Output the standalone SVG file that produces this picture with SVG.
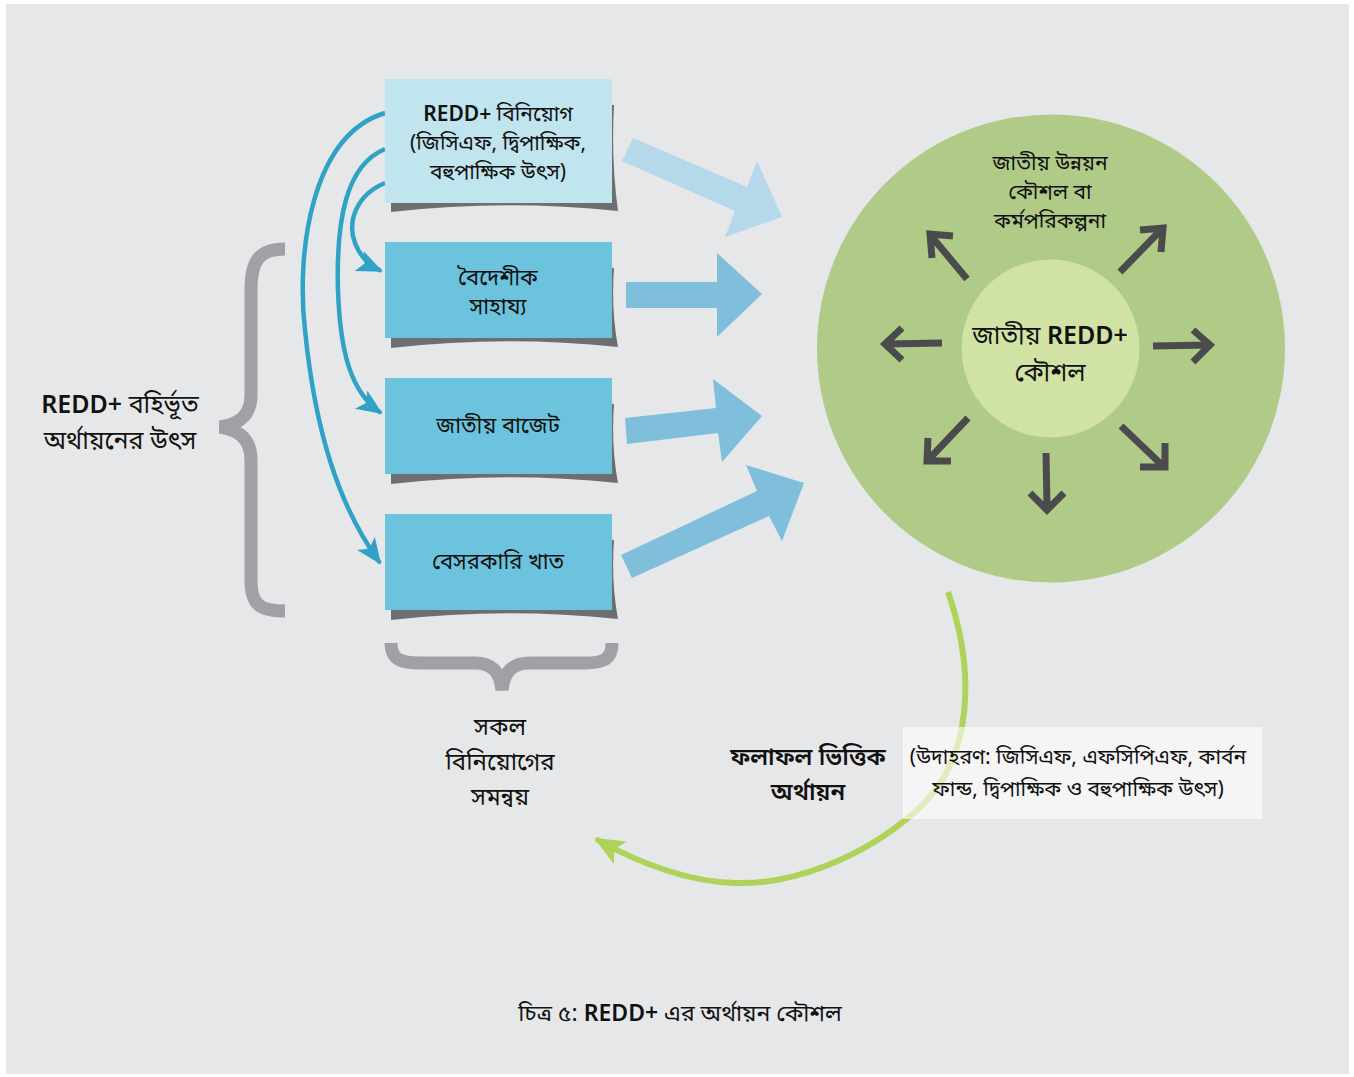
<svg xmlns="http://www.w3.org/2000/svg" width="1354" height="1077" viewBox="0 0 1354 1077">
<defs>
<style>
.t{font-family:"Noto Sans","Noto Sans Bengali","Noto Serif Bengali","Lohit Bengali",sans-serif;fill:#111;text-anchor:middle}
.b{font-weight:600}
.box{stroke:none}
.shadow{fill:#6d6e70}
.blk{stroke:none}
.curve{fill:none;stroke:#2fa2c6;stroke-width:4.5}
.dark{fill:none;stroke:#4b4b4d;stroke-width:7;stroke-linecap:butt;stroke-linejoin:miter}
.brace{fill:none;stroke:#a0a1a4;stroke-width:13}
</style>
<marker id="bh" viewBox="0 0 26 22" refX="24" refY="11" markerWidth="26" markerHeight="22" markerUnits="userSpaceOnUse" orient="auto">
<path d="M0,0 L26,11 L0,22 L6,11 Z" fill="#2fa2c6"/>
</marker>
<marker id="gh" viewBox="0 0 30 26" refX="28" refY="13" markerWidth="30" markerHeight="26" markerUnits="userSpaceOnUse" orient="auto">
<path d="M0,0 L30,13 L0,26 L7,13 Z" fill="#afd35a"/>
</marker>
</defs>
<rect x="0" y="0" width="1354" height="1077" fill="#ffffff"/>
<rect x="6" y="4" width="1343" height="1070" fill="#e6e7e9"/>

<g id="brace-left">
<path class="brace" d="M285,249 C258,249 251,262 251,290 L251,395 C251,415 240,424 220,427 C240,430 251,440 251,460 L251,580 C251,603 258,611 285,611"/>
</g>
<g id="brace-bottom">
<path class="brace" d="M391,643 C391,659 400,663 420,663 L475,663 C492,663 500,672 502,690 C504,672 512,663 530,663 L585,663 C604,663 612,659 612,643"/>
</g>

<g id="connectors">
<path class="curve" d="M385,113 C312,135 296,250 305,330 C315,430 338,505 380,563" marker-end="url(#bh)"/>
<path class="curve" d="M385,149 C346,165 336,220 338,290 C340,350 350,392 381,413" marker-end="url(#bh)"/>
<path class="curve" d="M385,183 C356,195 347,222 355,243 C360,256 370,266 381,271" marker-end="url(#bh)"/>
<polygon class="blk" fill="#b5d9ea" points="633,138 747,187 757,161 782,217 725,237 735,211 622,161"/>
<polygon class="blk" fill="#7fbfdc" points="626,282 717,282 717,253 762,294 717,337 717,308 626,308"/>
<polygon class="blk" fill="#7fbfdc" points="625,418 716,408 713,379 762,416 722,462 718,433 627,444"/>
<polygon class="blk" fill="#7fbfdc" points="621,555 757,491 746,465 804,483 782,541 769,516 632,578"/>
<path fill="none" stroke="#afd35a" stroke-width="6" d="M948,592 C975,670 975,760 915,812 C860,860 790,885 735,883 C690,882 640,864 596,839" marker-end="url(#gh)"/>
</g>

<g id="box-redd-invest">
<path class="shadow" d="M391,105 L614,105 Q611,160 618,211 Q505,199 391,212 Z"/>
<rect class="box" x="385" y="79" width="227" height="124" fill="#c0e5ef"/>
<text class="t" font-size="21" x="498" y="121"><tspan class="b">REDD+</tspan> বিনিয়োগ<tspan x="498" dy="29">(জিসিএফ, দ্বিপাক্ষিক,</tspan><tspan x="498" dy="29">বহুপাক্ষিক উৎস)</tspan></text>
</g>
<g id="box-foreign-aid">
<path class="shadow" d="M391,268 L614,268 Q611,310 618,347 Q505,335 391,348 Z"/>
<rect class="box" x="385" y="242" width="227" height="96" fill="#6cc3dd"/>
<text class="t" font-size="22" x="498" y="285">বৈদেশীক<tspan x="498" dy="29">সাহায্য</tspan></text>
</g>
<g id="box-national-budget">
<path class="shadow" d="M391,404 L614,404 Q611,446 618,483 Q505,471 391,484 Z"/>
<rect class="box" x="385" y="378" width="227" height="96" fill="#6cc3dd"/>
<text class="t" font-size="22" x="498" y="433">জাতীয় বাজেট</text>
</g>
<g id="box-private">
<path class="shadow" d="M391,540 L614,540 Q611,582 618,619 Q505,607 391,620 Z"/>
<rect class="box" x="385" y="514" width="227" height="96" fill="#6cc3dd"/>
<text class="t" font-size="22" x="498" y="569">বেসরকারি খাত</text>
</g>

<g id="label-outside">
<text class="t" font-size="25" x="120" y="413"><tspan class="b">REDD+</tspan> বহির্ভূত<tspan x="120" dy="36">অর্থায়নের উৎস</tspan></text>
</g>
<g id="label-coordination">
<text class="t" font-size="24" x="500" y="735">সকল<tspan x="500" dy="35">বিনিয়োগের</tspan><tspan x="500" dy="35">সমন্বয়</tspan></text>
</g>

<g id="national-circle">
<circle cx="1051" cy="348.5" r="234" fill="#b0cb87"/>
<text class="t" font-size="21" x="1050" y="170">জাতীয় উন্নয়ন<tspan x="1050" dy="29">কৌশল বা</tspan><tspan x="1050" dy="29">কর্মপরিকল্পনা</tspan></text>
<g id="radial-arrows">
<path class="dark" d="M967,279 L932,237 M953,236 L930,234 L932,258"/>
<path class="dark" d="M1120,272 L1160,231 M1140,230 L1163,228 L1161,252"/>
<path class="dark" d="M942,343 L886,344 M902,328 L885,344 L902,360"/>
<path class="dark" d="M1153,346 L1208,345 M1193,330 L1210,345 L1193,362"/>
<path class="dark" d="M968,418 L930,458 M928,438 L927,461 L951,461"/>
<path class="dark" d="M1046,453 L1047,507 M1030,493 L1047,510 L1064,493"/>
<path class="dark" d="M1121,426 L1162,465 M1165,443 L1165,467 L1140,467"/>
</g>
</g>
<g id="national-redd">
<circle cx="1050.5" cy="348.5" r="89" fill="#d0e3a5"/>
<text class="t" font-size="25" x="1050" y="344">জাতীয় <tspan class="b">REDD+</tspan><tspan x="1050" dy="37">কৌশল</tspan></text>
</g>

<g id="label-results">
<text class="t b" font-size="24" x="808" y="765">ফলাফল ভিত্তিক<tspan x="808" dy="35">অর্থায়ন</tspan></text>
</g>
<g id="example-box">
<rect x="903" y="727" width="359" height="92" fill="#ffffff" fill-opacity="0.6"/>
<text class="t" font-size="21" x="1078" y="764">(উদাহরণ: জিসিএফ, এফসিপিএফ, কার্বন<tspan x="1078" dy="32">ফান্ড, দ্বিপাক্ষিক ও বহুপাক্ষিক উৎস)</tspan></text>
</g>

<g id="caption">
<text class="t" font-size="23" x="680" y="1021">চিত্র ৫: <tspan class="b">REDD+</tspan> এর অর্থায়ন কৌশল</text>
</g>
</svg>
